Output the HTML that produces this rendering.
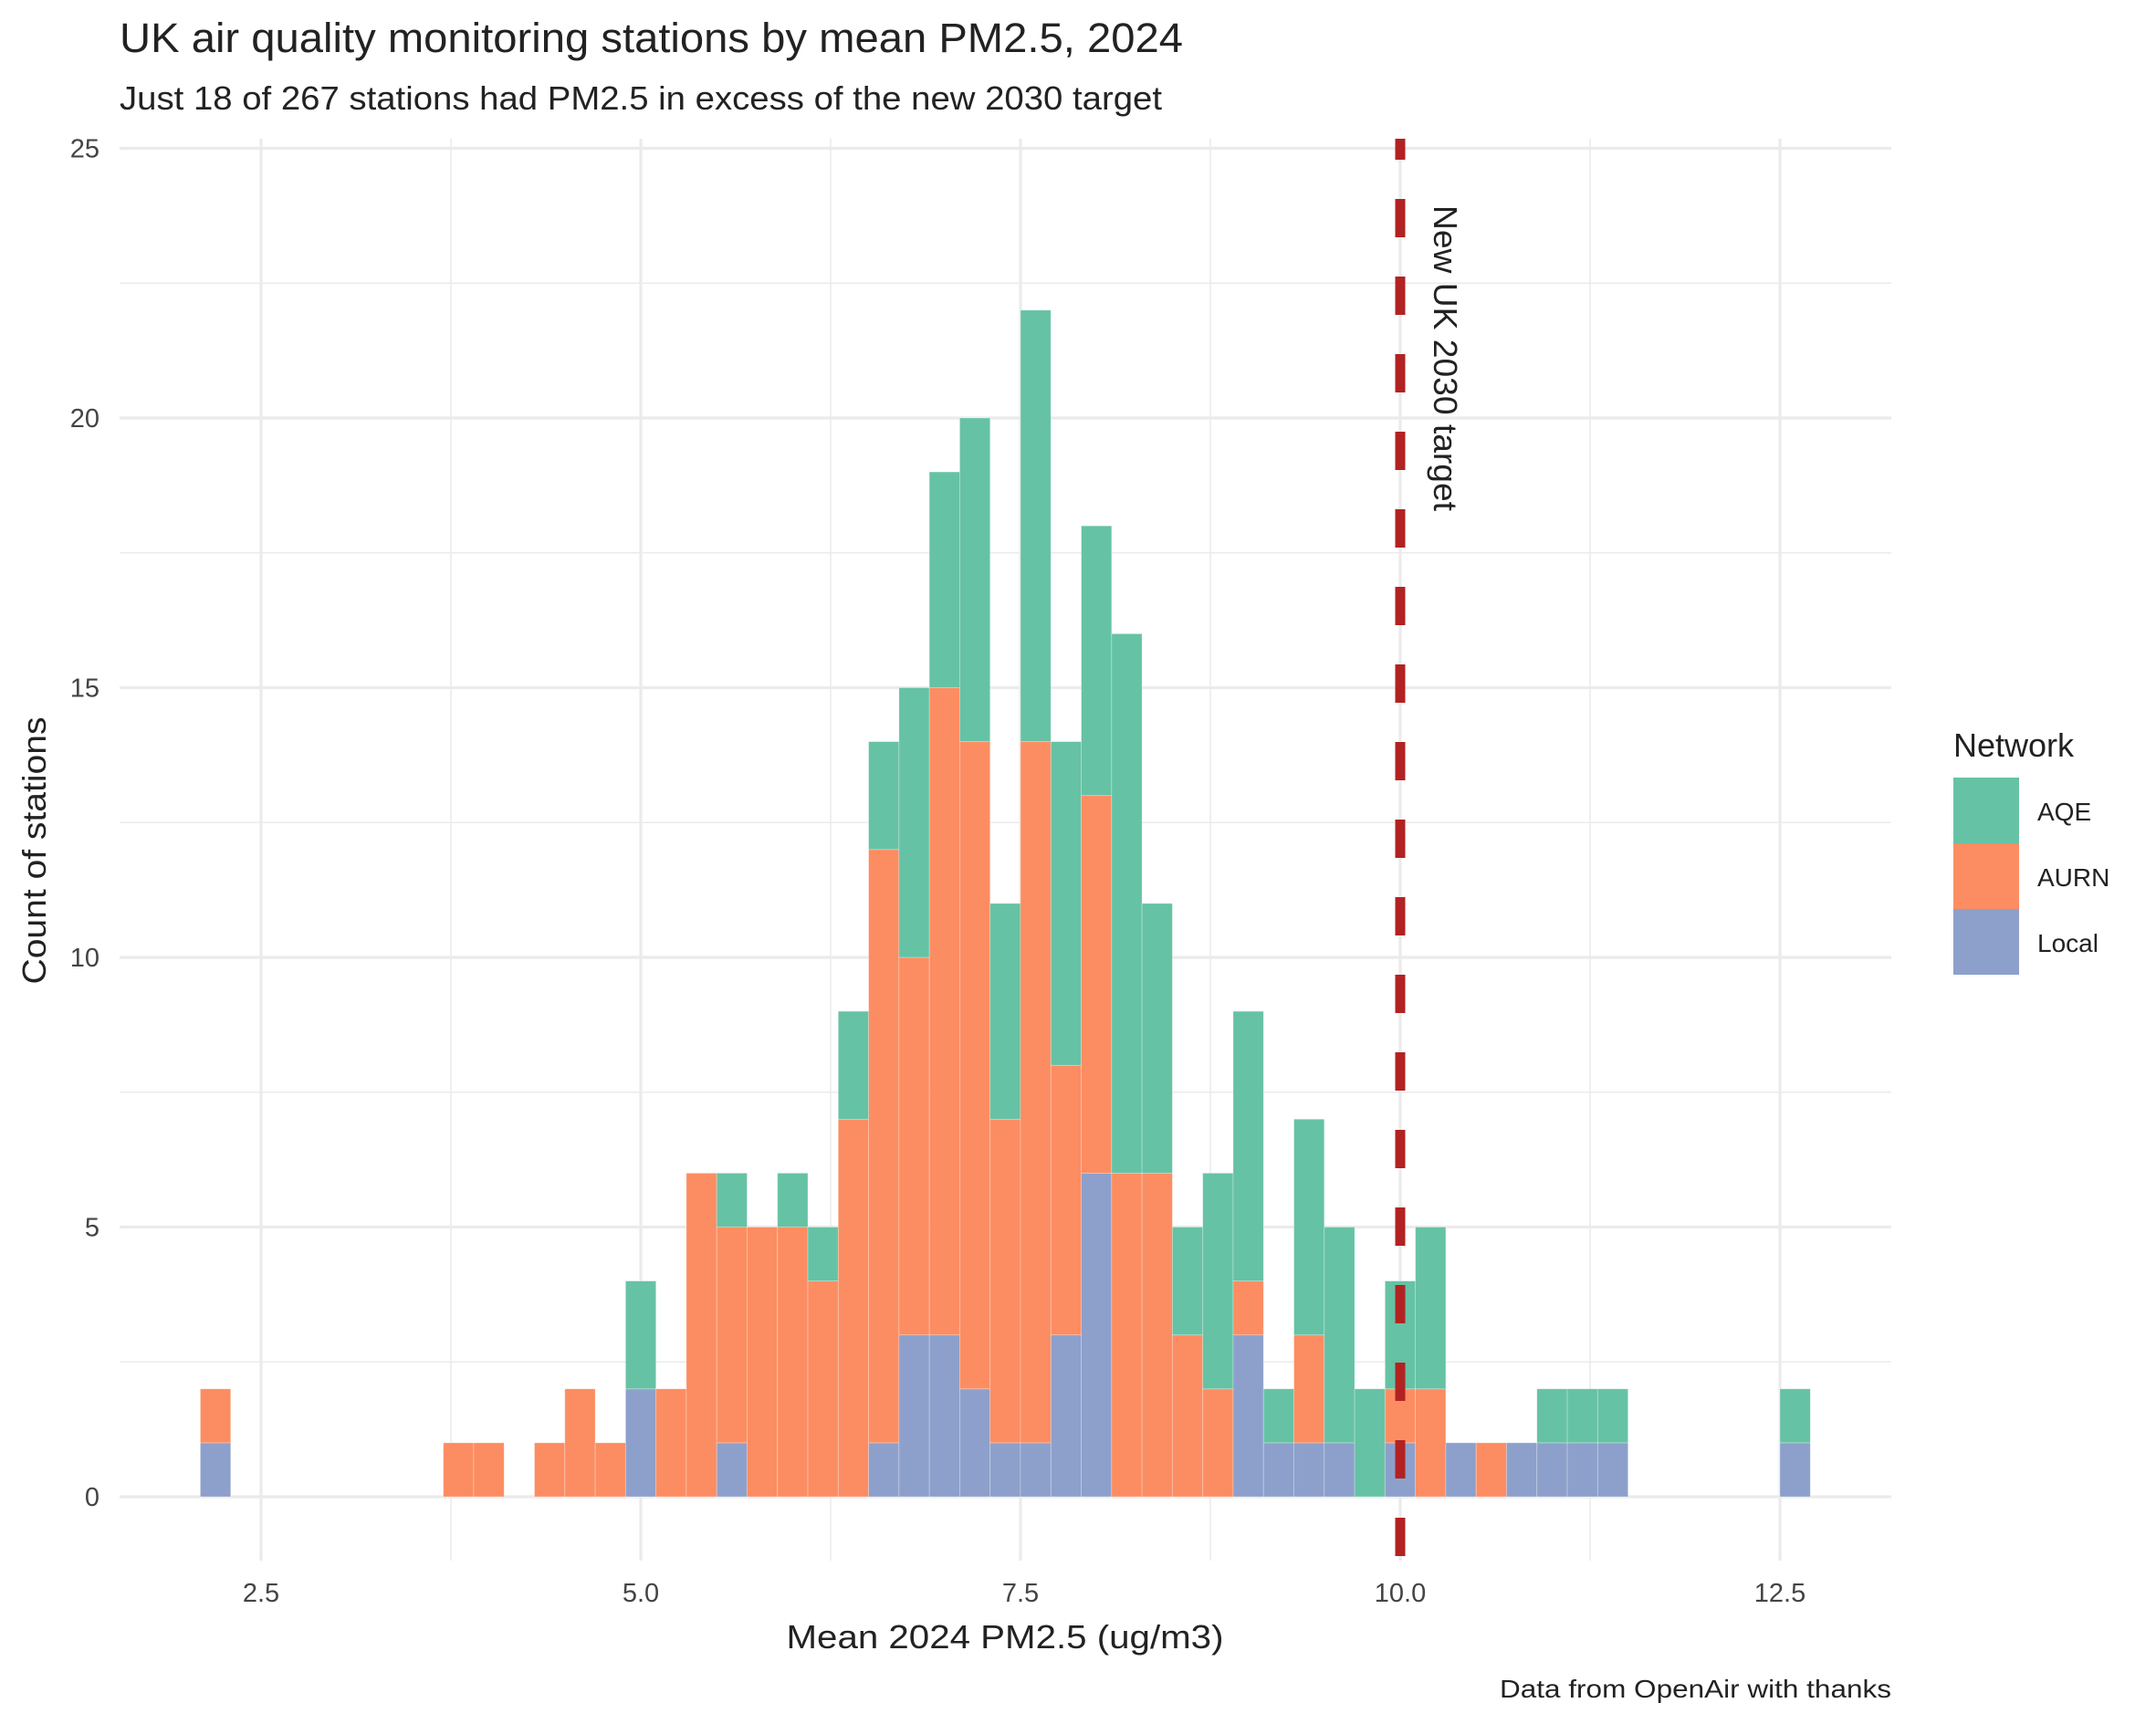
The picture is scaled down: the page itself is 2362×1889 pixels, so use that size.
<!DOCTYPE html>
<html><head><meta charset="utf-8"><style>
html,body{margin:0;padding:0;background:#fff;}
svg{display:block;font-family:"Liberation Sans",sans-serif;}
</style></head><body>
<svg id="chart" width="2362" height="1889" viewBox="0 0 2362 1889" xmlns="http://www.w3.org/2000/svg">
<rect width="2362" height="1889" fill="#fff"/>
<g id="grid"></g>
<g id="bars"></g>
<g id="annot"></g>
<g id="axes"></g>
<text x="131" y="57" font-size="45" fill="#222" textLength="1165" lengthAdjust="spacingAndGlyphs">UK air quality monitoring stations by mean PM2.5, 2024</text>
<text x="131" y="120" font-size="36" fill="#222" textLength="1142" lengthAdjust="spacingAndGlyphs">Just 18 of 267 stations had PM2.5 in excess of the new 2030 target</text>
<text x="1101" y="1806" font-size="36" fill="#222" text-anchor="middle" textLength="479" lengthAdjust="spacingAndGlyphs">Mean 2024 PM2.5 (ug/m3)</text>
<text transform="translate(50,932) rotate(-90)" font-size="36" fill="#222" text-anchor="middle" textLength="293" lengthAdjust="spacingAndGlyphs">Count of stations</text>
<text x="2072" y="1860" font-size="28" fill="#222" text-anchor="end" textLength="429" lengthAdjust="spacingAndGlyphs">Data from OpenAir with thanks</text>
<g>
<text x="2140" y="829" font-size="36" fill="#222">Network</text>
<rect x="2140" y="852" width="72" height="72" fill="#66C2A5"/>
<rect x="2140" y="924" width="72" height="72" fill="#FC8D62"/>
<rect x="2140" y="996" width="72" height="72" fill="#8DA0CB"/>
<text x="2232" y="899" font-size="28" fill="#222">AQE</text>
<text x="2232" y="971" font-size="28" fill="#222">AURN</text>
<text x="2232" y="1043" font-size="28" fill="#222">Local</text>
</g>
</svg>
<script>
// bin centers (ug/m3), bin width 0.2
const binCenters = [2.2,3.8,4.0,4.4,4.6,4.8,5.0,5.2,5.4,5.6,5.8,6.0,6.2,6.4,6.6,6.8,7.0,7.2,7.4,7.6,7.8,8.0,8.2,8.4,8.6,8.8,9.0,9.2,9.4,9.6,9.8,10.0,10.2,10.4,10.6,10.8,11.0,11.2,11.4,12.6];
const localCounts = [1,0,0,0,0,0,2,0,0,1,0,0,0,0,1,3,3,2,1,1,3,6,0,0,0,0,3,1,1,1,0,1,0,1,0,1,1,1,1,1];
const aurnCounts  = [1,1,1,1,2,1,0,2,6,4,5,5,4,7,11,7,12,12,6,13,5,7,6,6,3,2,1,0,2,0,0,1,2,0,1,0,0,0,0,0];
const aqeCounts   = [0,0,0,0,0,0,2,0,0,1,0,1,1,2,2,5,4,6,4,8,6,5,10,5,2,4,5,1,4,4,2,2,3,0,0,0,1,1,1,1];
const xTicks = [2.5,5.0,7.5,10.0,12.5];
const xTickLabels = ["2.5","5.0","7.5","10.0","12.5"];
const xMinor = [3.75,6.25,8.75,11.25];
const yTicks = [0,5,10,15,20,25];
const yMinor = [2.5,7.5,12.5,17.5,22.5];
const binWidth = 0.2;
const targetValue = 10;

const NS = "http://www.w3.org/2000/svg";
const PL = 131, PR = 2072, PT = 152, PB = 1710;
function xs(v){ return 286 + (v - 2.5) * 166.4; }
function ys(v){ return 1640 - v * 59.1; }
function mk(tag, attrs, parent){
  const e = document.createElementNS(NS, tag);
  for (const k in attrs) e.setAttribute(k, attrs[k]);
  parent.appendChild(e);
  return e;
}
const grid = document.getElementById('grid');
yMinor.forEach(v => {
  const l = mk('line', {x1:PL, x2:PR, y1:ys(v), y2:ys(v), stroke:'#EBEBEB', 'stroke-width':1.6}, grid);
  
  
});
xMinor.forEach(v => {
  const l = mk('line', {x1:xs(v), x2:xs(v), y1:PT, y2:PB, stroke:'#EBEBEB', 'stroke-width':1.6}, grid);
  
  
});
yTicks.forEach(v => {
  const l = mk('line', {x1:PL, x2:PR, y1:ys(v), y2:ys(v), stroke:'#EBEBEB', 'stroke-width':3.2}, grid);
  
  
});
xTicks.forEach(v => {
  const l = mk('line', {x1:xs(v), x2:xs(v), y1:PT, y2:PB, stroke:'#EBEBEB', 'stroke-width':3.2}, grid);
  
  
});

const bars = document.getElementById('bars');
const series = [
  {name:'local', vals:localCounts, color:'#8DA0CB'},
  {name:'aurn', vals:aurnCounts, color:'#FC8D62'},
  {name:'aqe', vals:aqeCounts, color:'#66C2A5'}
];
binCenters.forEach((c, i) => {
  let base = 0;
  series.forEach(s => {
    const v = s.vals[i];
    if (v > 0) {
      const x0 = xs(c - binWidth/2), x1 = xs(c + binWidth/2);
      const r = mk('rect', {x:x0, y:ys(base + v), width:x1 - x0, height:ys(base) - ys(base + v), fill:s.color, stroke:'rgba(255,255,255,0.35)', 'stroke-width':0.8}, bars);
      
      
    }
    base += v;
  });
});

const annot = document.getElementById('annot');
const tl = mk('line', {x1:xs(targetValue), x2:xs(targetValue), y1:PT, y2:PB + 20, stroke:'#B22222', 'stroke-width':11, 'stroke-dasharray':'42 43', 'stroke-dashoffset':19}, annot);


const tt = mk('text', {transform:'translate(' + (xs(targetValue) + 37) + ',225) rotate(90)', 'font-size':36, fill:'#222', textLength:335, lengthAdjust:'spacingAndGlyphs'}, annot);
tt.textContent = 'New UK 2030 target';



const axes = document.getElementById('axes');
xTicks.forEach((v, i) => {
  const t = mk('text', {x:xs(v), y:1755, 'font-size':29, fill:'#444', 'text-anchor':'middle'}, axes);
  t.textContent = xTickLabels[i];
  
  
});
yTicks.forEach(v => {
  const t = mk('text', {x:109, y:ys(v) + 10, 'font-size':29, fill:'#444', 'text-anchor':'end'}, axes);
  t.textContent = String(v);
  
  
});
</script>
</body></html>
